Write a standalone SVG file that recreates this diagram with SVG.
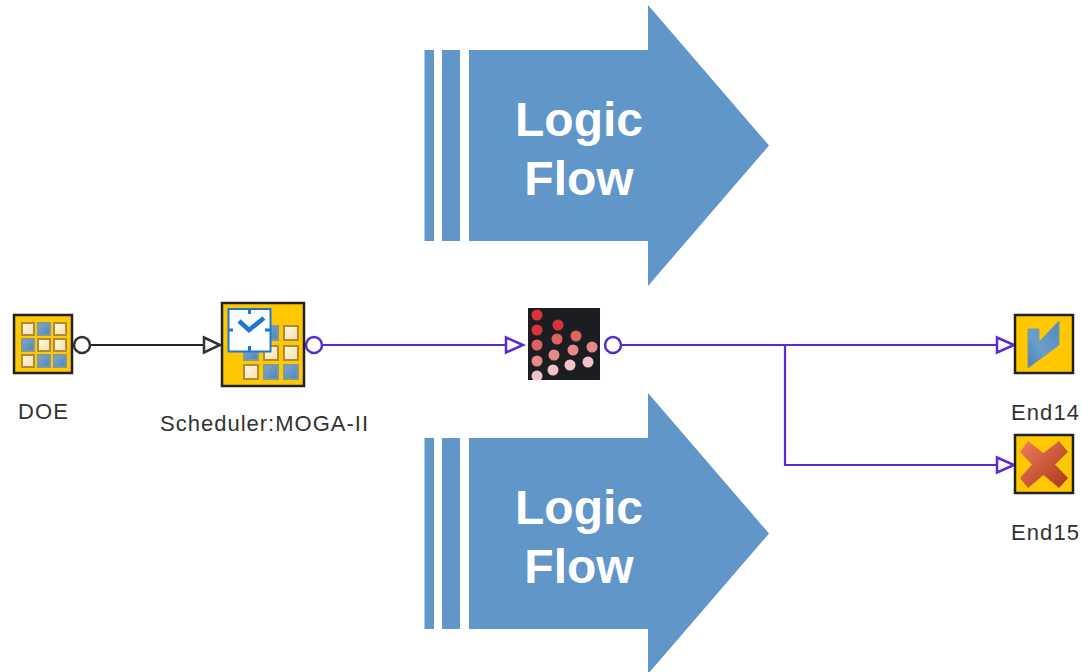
<svg xmlns="http://www.w3.org/2000/svg" width="1082" height="672" viewBox="0 0 1082 672">
<defs>
<linearGradient id="blue" x1="0" y1="0" x2="1" y2="1"><stop offset="0" stop-color="#7fa9cf"/><stop offset="1" stop-color="#4f84b4"/></linearGradient>
<linearGradient id="cream" x1="0" y1="0" x2="1" y2="1"><stop offset="0" stop-color="#fffbe8"/><stop offset="1" stop-color="#f6dfa4"/></linearGradient>
<linearGradient id="xg" x1="0" y1="0" x2="1" y2="1"><stop offset="0" stop-color="#ef7d5e"/><stop offset="1" stop-color="#a8371c"/></linearGradient>
<linearGradient id="vg" x1="1" y1="0" x2="0" y2="1"><stop offset="0" stop-color="#4f8bc0"/><stop offset="0.6" stop-color="#6a9fcb"/><stop offset="1" stop-color="#4a80b2"/></linearGradient>
<clipPath id="scatter"><rect x="528" y="308" width="72" height="72"/></clipPath>
<g id="arrowBig">
<rect x="424.500" y="50" width="9.500" height="191"/>
<rect x="442" y="50" width="18" height="191"/>
<path d="M469 50H648V5L769 145.500L648 286V241H469Z"/>
</g>
</defs>
<style>
.big{fill:#6096c8}
.lf{font:bold 48px "Liberation Sans",Arial,sans-serif;fill:#fff;text-anchor:middle}
.lab{font:22px "Liberation Sans",Arial,sans-serif;fill:#333}
.box{fill:#ffc800;stroke:#222;stroke-width:2.500}
.c{fill:url(#cream);stroke:#b08a3a;stroke-width:2}
.b{fill:url(#blue);stroke:#7e9a9e;stroke-width:2}
.k{fill:none;stroke:#222;stroke-width:2.200}
.p{fill:none;stroke:#5a2bd0;stroke-width:2.200}
.pw{fill:#fff;stroke:#5a2bd0;stroke-width:2.500}
.kw{fill:#fff;stroke:#333;stroke-width:2.500}
</style>
<g id="logic-flow-top" class="big"><use href="#arrowBig"/>
<text class="lf" x="579" y="136">Logic</text><text class="lf" x="579" y="195">Flow</text></g>
<g id="logic-flow-bottom" class="big"><use href="#arrowBig" y="388"/>
<text class="lf" x="579" y="524">Logic</text><text class="lf" x="579" y="583">Flow</text></g>
<g id="connectors">
<path class="k" d="M90 345H204"/>
<path class="kw" d="M204 337.500L220 345L204 352.500Z"/>
<circle class="kw" cx="82" cy="345" r="8"/>
<path class="p" d="M322 345H506"/>
<path class="pw" d="M506 337.500L523 345L506 352.500Z"/>
<circle class="pw" cx="314" cy="345" r="8"/>
<path class="p" d="M621 345H997M785 345V465H997"/>
<path class="pw" d="M997 337.500L1014 345L997 352.500Z"/>
<path class="pw" d="M997 457.500L1014 465L997 472.500Z"/>
<circle class="pw" cx="613" cy="345" r="8"/>
</g>
<g id="doe">
<rect class="box" x="14" y="315" width="58" height="58"/>
<rect class="c" x="22" y="323" width="12" height="12"/><rect class="b" x="38" y="323" width="12" height="12"/><rect class="c" x="54" y="323" width="12" height="12"/>
<rect class="b" x="22" y="339" width="12" height="12"/><rect class="c" x="38" y="339" width="12" height="12"/><rect class="c" x="54" y="339" width="12" height="12"/>
<rect class="c" x="22" y="355" width="12" height="12"/><rect class="b" x="38" y="355" width="12" height="12"/><rect class="b" x="54" y="355" width="12" height="12"/>
<text class="lab" x="18" y="419" textLength="50">DOE</text>
</g>
<g id="scheduler">
<rect class="box" x="222" y="303" width="82" height="83"/>
<rect class="b" x="244" y="326" width="14" height="14"/><rect class="b" x="264" y="326" width="14" height="14"/><rect class="c" x="284" y="326" width="14" height="14"/>
<rect class="b" x="244" y="346" width="14" height="14"/><rect class="c" x="264" y="346" width="14" height="14"/><rect class="c" x="284" y="346" width="14" height="14"/>
<rect class="c" x="244" y="365" width="14" height="14"/><rect class="b" x="264" y="365" width="14" height="14"/><rect class="b" x="284" y="365" width="14" height="14"/>
<rect x="228.500" y="309" width="42" height="42.500" fill="#fbfdff" stroke="#1f78d0" stroke-width="2"/>
<path d="M249.500 309v5M249.500 346v5M228 330h5M265 330h5" stroke="#1f78d0" stroke-width="3" fill="none"/>
<path d="M239 321L249 330L264 318" stroke="#1f78d0" stroke-width="4.500" fill="none"/>
<text class="lab" x="160" y="431" textLength="208">Scheduler:MOGA-II</text>
</g>
<g id="design-space">
<rect x="528" y="308" width="72" height="72" fill="#1c1d22"/>
<g clip-path="url(#scatter)">
<g fill="#d8343a"><circle cx="537" cy="315" r="5.500"/><circle cx="537" cy="330" r="5.500"/><circle cx="558" cy="325" r="5.500"/></g>
<g fill="#e0625f"><circle cx="537" cy="345" r="5.500"/><circle cx="557" cy="339" r="5.500"/><circle cx="576" cy="336" r="5.500"/></g>
<g fill="#e58a88"><circle cx="537" cy="361" r="5.500"/><circle cx="554" cy="355" r="5.500"/><circle cx="573" cy="350" r="5.500"/><circle cx="592" cy="347" r="5.500"/></g>
<g fill="#f0c4c6"><circle cx="537" cy="376" r="5.500"/><circle cx="553" cy="370" r="5.500"/><circle cx="570" cy="365" r="5.500"/><circle cx="588" cy="362" r="5.500"/></g>
</g>
</g>
<g id="end14">
<rect class="box" x="1015" y="315" width="58" height="58"/>
<path d="M1028 329H1039V342L1059 321V345L1028 368Z" fill="url(#vg)" stroke="#7d9aa0"/>
<text class="lab" x="1011" y="420" textLength="68">End14</text>
</g>
<g id="end15">
<rect class="box" x="1015" y="435" width="58" height="58"/>
<path d="M1028 441L1043.500 453L1059 441L1068 452L1055 464.500L1068 478L1059 488L1043.500 475L1028 488L1020 478L1032 464.500L1020 452Z" fill="url(#xg)"/>
<text class="lab" x="1011" y="540" textLength="68">End15</text>
</g>
</svg>
